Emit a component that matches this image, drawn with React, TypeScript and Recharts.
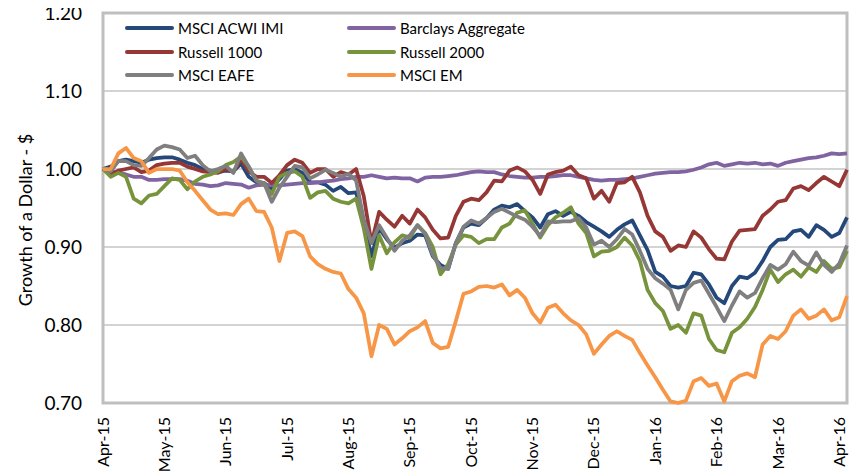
import {
  LineChart,
  Line,
  XAxis,
  YAxis,
  CartesianGrid,
  ReferenceArea,
} from "recharts";

// month labels on the x axis, 8 sample points per month
const MONTHS = [
  "Apr-15", "May-15", "Jun-15", "Jul-15", "Aug-15", "Sep-15", "Oct-15",
  "Nov-15", "Dec-15", "Jan-16", "Feb-16", "Mar-16", "Apr-16",
];
const STEPS_PER_MONTH = 8;
const Y_TICKS = [0.7, 0.8, 0.9, 1.0, 1.1, 1.2];

const acwiImi = [
  1.000, 1.003, 1.010, 1.012, 1.010, 1.008, 1.012, 1.014, 1.015, 1.015, 1.012, 1.008, 1.005, 1.000, 0.998, 0.996, 0.998,
  0.997, 1.007, 0.990, 0.983, 0.982, 0.975, 0.987, 0.998, 1.000, 0.995, 0.983, 0.983, 0.980, 0.972, 0.977, 0.969, 0.970,
  0.932, 0.888, 0.924, 0.910, 0.899, 0.905, 0.908, 0.916, 0.915, 0.888, 0.877, 0.872, 0.905, 0.925, 0.930, 0.928, 0.937,
  0.948, 0.953, 0.951, 0.955, 0.946, 0.938, 0.925, 0.942, 0.946, 0.940, 0.945, 0.940, 0.932, 0.926, 0.920, 0.913, 0.922,
  0.929, 0.934, 0.915, 0.896, 0.868, 0.862, 0.850, 0.848, 0.850, 0.867, 0.865, 0.852, 0.835, 0.828, 0.850, 0.862, 0.860,
  0.867, 0.882, 0.900, 0.909, 0.910, 0.920, 0.922, 0.913, 0.928, 0.922, 0.913, 0.918, 0.938,
];

const barclays = [
  1.000, 0.997, 0.995, 0.993, 0.990, 0.990, 0.986, 0.986, 0.987, 0.987, 0.987, 0.985, 0.981, 0.980, 0.978, 0.979, 0.982,
  0.981, 0.980, 0.976, 0.979, 0.980, 0.979, 0.979, 0.980, 0.981, 0.982, 0.982, 0.983, 0.984, 0.985, 0.987, 0.988, 0.990,
  0.990, 0.992, 0.990, 0.988, 0.989, 0.988, 0.988, 0.984, 0.989, 0.990, 0.990, 0.991, 0.992, 0.994, 0.996, 0.997, 0.996,
  0.996, 0.993, 0.991, 0.990, 0.989, 0.989, 0.990, 0.990, 0.991, 0.992, 0.992, 0.990, 0.988, 0.986, 0.985, 0.986, 0.986,
  0.987, 0.988, 0.990, 0.992, 0.994, 0.995, 0.996, 0.996, 0.997, 0.999, 1.002, 1.006, 1.008, 1.004, 1.006, 1.008, 1.007,
  1.008, 1.006, 1.007, 1.004, 1.008, 1.010, 1.012, 1.014, 1.015, 1.017, 1.020, 1.019, 1.020,
];

const russell1000 = [
  1.000, 0.993, 0.998, 1.000, 1.002, 0.996, 0.998, 1.005, 1.007, 1.008, 1.008, 1.003, 1.000, 0.997, 0.996, 0.995, 1.000,
  0.996, 1.013, 0.997, 0.990, 0.990, 0.982, 0.992, 1.005, 1.012, 1.008, 0.995, 1.000, 1.000, 0.990, 0.996, 0.993, 1.000,
  0.965, 0.905, 0.945, 0.935, 0.926, 0.940, 0.930, 0.948, 0.938, 0.922, 0.911, 0.912, 0.940, 0.958, 0.962, 0.960, 0.970,
  0.985, 0.984, 0.998, 1.002, 0.997, 0.986, 0.968, 0.993, 0.996, 0.998, 1.003, 0.992, 0.988, 0.962, 0.972, 0.958, 0.982,
  0.983, 0.990, 0.970, 0.940, 0.920, 0.913, 0.895, 0.902, 0.900, 0.920, 0.912, 0.897, 0.885, 0.884, 0.907, 0.921, 0.922,
  0.923, 0.940, 0.948, 0.958, 0.960, 0.975, 0.978, 0.973, 0.982, 0.990, 0.984, 0.978, 0.999,
];

const russell2000 = [
  1.000, 0.990, 0.995, 0.990, 0.962, 0.956, 0.966, 0.968, 0.978, 0.988, 0.986, 0.974, 0.984, 0.990, 0.993, 0.997, 1.005,
  1.009, 1.016, 1.003, 0.985, 0.980, 0.968, 0.990, 0.995, 0.997, 0.990, 0.963, 0.970, 0.972, 0.962, 0.958, 0.956, 0.962,
  0.924, 0.872, 0.915, 0.892, 0.906, 0.915, 0.912, 0.928, 0.918, 0.900, 0.865, 0.878, 0.903, 0.915, 0.913, 0.905, 0.910,
  0.910, 0.925, 0.930, 0.944, 0.947, 0.930, 0.912, 0.928, 0.938, 0.944, 0.951, 0.930, 0.918, 0.888, 0.894, 0.895, 0.900,
  0.912, 0.902, 0.882, 0.845, 0.828, 0.818, 0.795, 0.800, 0.790, 0.815, 0.812, 0.782, 0.768, 0.765, 0.790, 0.797, 0.808,
  0.823, 0.845, 0.871, 0.855, 0.865, 0.871, 0.862, 0.874, 0.868, 0.882, 0.872, 0.874, 0.895,
];

const msciEafe = [
  1.000, 0.997, 1.010, 1.010, 1.005, 1.004, 1.014, 1.025, 1.030, 1.028, 1.025, 1.014, 1.017, 1.005, 0.997, 1.000, 1.004,
  0.995, 1.020, 1.003, 0.985, 0.982, 0.958, 0.976, 0.990, 1.004, 1.002, 0.988, 0.993, 0.999, 0.995, 0.990, 0.994, 0.985,
  0.935, 0.905, 0.928, 0.912, 0.895, 0.908, 0.915, 0.928, 0.917, 0.890, 0.873, 0.872, 0.905, 0.926, 0.934, 0.930, 0.937,
  0.945, 0.949, 0.944, 0.939, 0.935, 0.926, 0.914, 0.933, 0.932, 0.933, 0.933, 0.937, 0.925, 0.903, 0.908, 0.900, 0.910,
  0.923, 0.916, 0.895, 0.872, 0.860, 0.853, 0.845, 0.820, 0.845, 0.854, 0.857, 0.840, 0.823, 0.805, 0.825, 0.843, 0.835,
  0.841, 0.860, 0.877, 0.871, 0.878, 0.894, 0.882, 0.876, 0.893, 0.877, 0.868, 0.879, 0.902,
];

const msciEm = [
  1.000, 1.000, 1.020, 1.027, 1.014, 1.010, 0.995, 1.000, 1.000, 1.000, 0.998, 0.983, 0.972, 0.960, 0.948, 0.942, 0.943,
  0.941, 0.955, 0.962, 0.946, 0.945, 0.925, 0.882, 0.918, 0.920, 0.914, 0.888, 0.878, 0.872, 0.868, 0.866, 0.846, 0.835,
  0.815, 0.760, 0.800, 0.795, 0.775, 0.783, 0.792, 0.797, 0.805, 0.777, 0.770, 0.772, 0.805, 0.840, 0.843, 0.849, 0.850,
  0.848, 0.852, 0.838, 0.845, 0.835, 0.815, 0.803, 0.822, 0.826, 0.815, 0.806, 0.800, 0.788, 0.763, 0.775, 0.786, 0.792,
  0.786, 0.781, 0.764, 0.748, 0.733, 0.717, 0.702, 0.700, 0.703, 0.728, 0.732, 0.722, 0.725, 0.702, 0.728, 0.735, 0.738,
  0.733, 0.775, 0.786, 0.782, 0.792, 0.812, 0.820, 0.808, 0.812, 0.820, 0.806, 0.810, 0.837,
];

const SERIES = [
  { key: "acwi", name: "MSCI ACWI IMI", color: "#24487A", values: acwiImi },
  { key: "barclays", name: "Barclays Aggregate", color: "#8064A2", values: barclays },
  { key: "r1000", name: "Russell 1000", color: "#953735", values: russell1000 },
  { key: "r2000", name: "Russell 2000", color: "#77933C", values: russell2000 },
  { key: "eafe", name: "MSCI EAFE", color: "#7F7F7F", values: msciEafe },
  { key: "em", name: "MSCI EM", color: "#F79646", values: msciEm },
];

const data = acwiImi.map((_, i) => {
  const row: { [k: string]: number } = { t: i };
  SERIES.forEach((s) => (row[s.key] = s.values[i]));
  return row;
});

const lastIndex = acwiImi.length - 1;
const monthTicks = MONTHS.map((_, m) => m * STEPS_PER_MONTH);

const FONT = "Lato, 'Open Sans', sans-serif";
const W = 857;
const H = 473;

const XTick = (props: any) => {
  const { x, y, payload } = props;
  const label = MONTHS[Math.round(payload.value / STEPS_PER_MONTH)];
  return (
    <text
      x={x}
      y={y}
      dy="0.35em"
      transform={`rotate(-90, ${x}, ${y})`}
      textAnchor="end"
      fontSize={16}
      fontFamily={FONT}
      fill="#000"
    >
      {label}
    </text>
  );
};

const YTick = (props: any) => {
  const { x, y, payload } = props;
  return (
    <text x={x} y={y} dy="0.35em" textAnchor="end" fontSize={19} fontFamily={FONT} fill="#000">
      {Number(payload.value).toFixed(2)}
    </text>
  );
};

const YTitle = () => (
  <text
    x={26}
    y={220}
    dy="0.35em"
    transform="rotate(-90, 26, 220)"
    textAnchor="middle"
    fontSize={18}
    fontFamily={FONT}
    fill="#000"
  >
    Growth of a Dollar - $
  </text>
);

// legend sits inside the plot, two columns
const LEGEND_COLS = [125, 347];
const LEGEND_ROWS = [28, 52, 75];

function ChartLegend() {
  return (
    <div style={{ position: "absolute", left: 0, top: 0, pointerEvents: "none" }}>
      {SERIES.map((s, i) => {
        const left = LEGEND_COLS[i % 2];
        const top = LEGEND_ROWS[Math.floor(i / 2)];
        return (
          <div
            key={s.key}
            style={{ position: "absolute", left, top: top - 10, height: 20, display: "flex", alignItems: "center", whiteSpace: "nowrap" }}
          >
            <div style={{ width: 49, height: 4, borderRadius: 2, background: s.color }} />
            <span style={{ marginLeft: 4, fontSize: 15, fontFamily: FONT, color: "#000" }}>{s.name}</span>
          </div>
        );
      })}
    </div>
  );
}

export default function App() {
  // pull the chart over the default body margin so it fills the window
  return (
    <div style={{ position: "relative", width: W, height: H, margin: "-8px 0 0 -8px" }}>
      <LineChart width={W} height={H} data={data} margin={{ top: 13, right: 10, bottom: 0, left: 0 }}>
        <CartesianGrid horizontal vertical={false} stroke="#C4C4C4" strokeWidth={1.5} />
        <XAxis
          dataKey="t"
          type="number"
          domain={[0, lastIndex]}
          ticks={monthTicks}
          interval={0}
          height={70}
          axisLine={false}
          tickLine={false}
          tickSize={0}
          tickMargin={14}
          tick={<XTick />}
        />
        <YAxis
          type="number"
          domain={[0.7, 1.2]}
          ticks={Y_TICKS}
          width={103}
          axisLine={false}
          tickLine={false}
          tickSize={0}
          tickMargin={21}
          tick={<YTick />}
          label={<YTitle />}
        />
        <ReferenceArea x1={0} x2={lastIndex} y1={0.7} y2={1.2} fill="none" stroke="#BFBFBF" strokeWidth={3} />
        {SERIES.map((s) => (
          <Line
            key={s.key}
            type="linear"
            dataKey={s.key}
            name={s.name}
            stroke={s.color}
            strokeWidth={3.75}
            strokeLinejoin="round"
            dot={false}
            isAnimationActive={false}
          />
        ))}
      </LineChart>
      <ChartLegend />
    </div>
  );
}
